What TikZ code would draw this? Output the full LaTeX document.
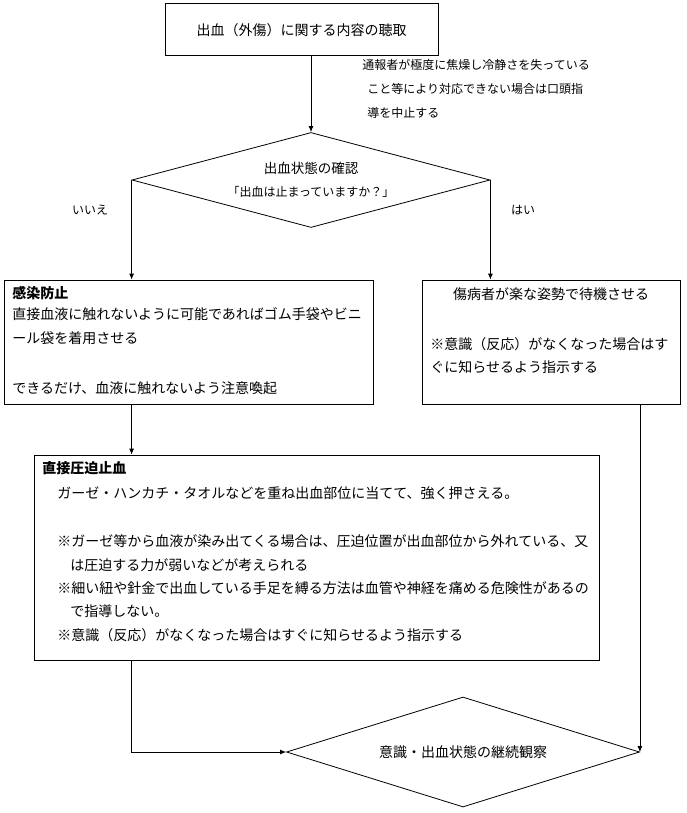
\documentclass[tikz,border=0pt]{standalone}
\usepackage{fontspec}
\setmainfont{Noto Sans CJK JP}
\usetikzlibrary{shapes.geometric,arrows.meta}
\begin{document}
\begin{tikzpicture}[x=1pt,y=-1pt,line width=0.8pt,>={Latex[length=6pt,width=5pt]},
    box/.style={draw,rectangle,inner sep=0pt},
    decision/.style={draw,diamond,inner sep=0pt},
    txt/.style={inner sep=0pt,anchor=west,font=\fontsize{14}{17}\selectfont},
    ctxt/.style={inner sep=0pt,font=\fontsize{14}{17}\selectfont},
    small/.style={inner sep=0pt,anchor=west,font=\fontsize{12}{14}\selectfont}]
    \useasboundingbox (0,0) rectangle (686,813);

    % draw the boxes and the decisions
    \node[box,minimum width=273pt,minimum height=52pt] (hearing) at (301.5,29) {};
    \node[decision,minimum width=358pt,minimum height=95pt] (check) at (311,180) {};
    \node[box,minimum width=369pt,minimum height=124pt] (infect) at (188.5,342) {};
    \node[box,minimum width=258pt,minimum height=124pt] (rest) at (551,342) {};
    \node[box,minimum width=565pt,minimum height=205pt] (press) at (316.5,557.5) {};
    \node[decision,minimum width=353pt,minimum height=110pt] (watch) at (463,752) {};

    % texts of the top box and the note beside it
    \node[ctxt] (hearingtext) at (301.5,30) {出血（外傷）に関する内容の聴取};
    \node[small] (note1) at (362,65) {通報者が極度に焦燥し冷静さを失っている};
    \node[small] (note2) at (367,89) {こと等により対応できない場合は口頭指};
    \node[small] (note3) at (367,113) {導を中止する};

    % texts of the first decision
    \node[inner sep=0pt,font=\fontsize{13.5}{16}\selectfont] (checktext1) at (311,168) {出血状態の確認};
    \node[inner sep=0pt,font=\fontsize{12}{14}\selectfont] (checktext2) at (311,192) {「出血は止まっていますか？」};
    \node[inner sep=0pt,font=\fontsize{12}{14}\selectfont] (no) at (90,210) {いいえ};
    \node[inner sep=0pt,font=\fontsize{12}{14}\selectfont] (yes) at (523,210) {はい};

    % texts of the left box
    \node[txt,font=\fontsize{14}{17}\selectfont\bfseries] (infect1) at (12,293) {感染防止};
    \node[txt] (infect2) at (12,314) {直接血液に触れないように可能であればゴム手袋やビニ};
    \node[txt] (infect3) at (12,338) {ール袋を着用させる};
    \node[txt] (infect4) at (12,388) {できるだけ、血液に触れないよう注意喚起};

    % texts of the right box
    \node[ctxt] (rest1) at (551,294) {傷病者が楽な姿勢で待機させる};
    \node[txt] (rest2) at (430,344) {※意識（反応）がなくなった場合はす};
    \node[txt] (rest3) at (430,367) {ぐに知らせるよう指示する};

    % texts of the big box
    \node[txt,font=\fontsize{14}{17}\selectfont\bfseries] (press1) at (42,468) {直接圧迫止血};
    \node[txt] (press2) at (57,493) {ガーゼ・ハンカチ・タオルなどを重ね出血部位に当てて、強く押さえる。};
    \node[txt] (press3) at (57,541) {※ガーゼ等から血液が染み出てくる場合は、圧迫位置が出血部位から外れている、又};
    \node[txt] (press4) at (70,565) {は圧迫する力が弱いなどが考えられる};
    \node[txt] (press5) at (57,588) {※細い紐や針金で出血している手足を縛る方法は血管や神経を痛める危険性があるの};
    \node[txt] (press6) at (70,611) {で指導しない。};
    \node[txt] (press7) at (57,635) {※意識（反応）がなくなった場合はすぐに知らせるよう指示する};

    % text of the last decision
    \node[ctxt] (watchtext) at (463,752) {意識・出血状態の継続観察};

    % draw the connectors
    \draw[->] (hearing.south -| check.north) -- (check.north);
    \draw[->] (check.west) -- (check.west |- infect.north);
    \draw[->] (check.east) -- (check.east |- rest.north);
    \draw[->] (infect.south -| check.west) -- (press.north -| check.west);
    \draw[->] (press.south -| check.west) |- (watch.west);
    \draw[->] (rest.south -| watch.east) -- (watch.east);
\end{tikzpicture}
\end{document}
